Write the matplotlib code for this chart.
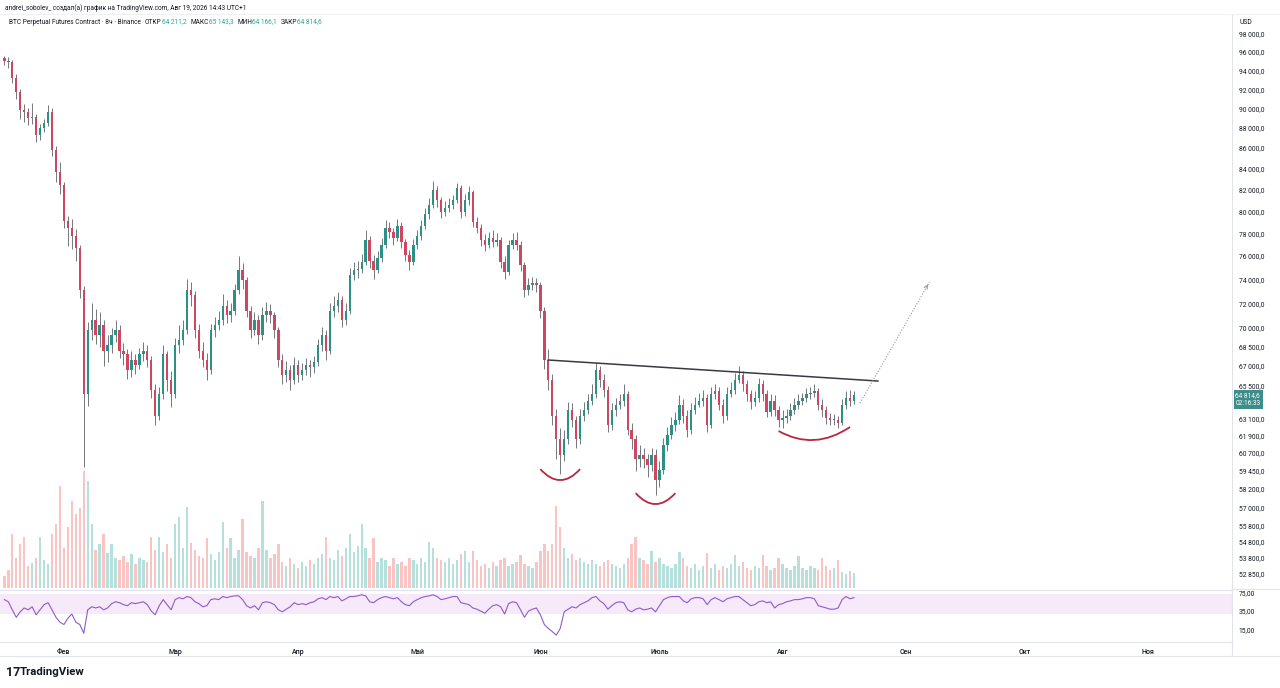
import numpy as np
import pandas as pd
import matplotlib
matplotlib.use("Agg")
import matplotlib.pyplot as plt
from matplotlib.path import Path
from matplotlib.patches import PathPatch
from matplotlib.lines import Line2D
from matplotlib.ticker import NullLocator, FixedLocator, FixedFormatter

plt.rcParams['font.family'] = ['Roboto', 'DejaVu Sans']

# ---------------- data (daily candles, prices in thousand USD) -------------
start_date = '2026-01-17'
first_open_k = 95.3
closes_k = [
    95.0, 94.9, 93.2, 91.7, 89.8, 89.6, 89.0, 89.1, 87.3, 88.0,
    88.5, 89.6, 85.8, 83.7, 82.4, 79.1, 78.5, 77.8, 76.7, 73.1,
    64.9, 69.8, 70.6, 69.4, 70.2, 68.2, 68.6, 69.4, 69.8, 68.2,
    67.9, 66.7, 67.5, 67.1, 67.9, 68.2, 67.5, 65.2, 63.3, 64.9,
    67.9, 65.9, 64.9, 68.6, 69.0, 69.8, 73.1, 72.7, 69.8, 68.2,
    67.5, 66.7, 69.8, 70.2, 70.6, 71.8, 71.0, 71.4, 73.1, 74.8,
    73.9, 71.4, 69.8, 70.6, 69.4, 71.0, 71.4, 71.0, 69.8, 67.5,
    66.3, 66.7, 65.9, 67.1, 66.3, 66.7, 67.1, 66.9, 67.3, 68.6,
    69.4, 68.2, 71.4, 71.8, 72.3, 70.6, 71.4, 74.4, 74.8, 74.9,
    75.5, 77.4, 75.6, 74.8, 75.8, 77.0, 78.5, 78.1, 77.6, 78.7,
    77.2, 76.1, 75.5, 77.0, 77.8, 78.7, 79.7, 80.6, 82.0, 81.0,
    79.9, 80.3, 80.6, 81.0, 82.2, 79.9, 81.0, 81.8, 79.0, 78.5,
    77.4, 77.0, 77.6, 77.2, 77.4, 75.5, 74.6, 77.0, 77.4, 77.0,
    75.2, 73.1, 73.5, 73.7, 73.5, 71.4, 67.5, 65.9, 63.3, 61.6,
    60.5, 61.6, 63.7, 63.0, 61.6, 63.3, 63.7, 64.4, 64.9, 66.7,
    65.9, 65.2, 62.6, 63.7, 64.1, 64.4, 64.9, 62.3, 61.6, 60.2,
    60.5, 60.2, 59.8, 60.5, 58.8, 59.5, 61.2, 61.9, 62.6, 63.0,
    64.1, 63.3, 62.3, 63.7, 64.1, 64.4, 64.6, 62.6, 64.9, 65.1,
    64.1, 63.3, 64.9, 65.2, 65.9, 66.3, 65.6, 64.9, 64.3, 64.6,
    65.6, 64.9, 63.6, 64.4, 63.7, 63.0, 63.1, 63.3, 63.7, 64.1,
    64.4, 64.6, 64.9, 65.0, 65.1, 64.1, 63.7, 63.1, 63.0, 63.0,
    62.8, 64.1, 64.6, 64.4, 64.8146]
highs_k = [
    95.6, 95.4, 95.1, 93.6, 92.0, 90.5, 90.0, 90.6, 89.4, 88.4,
    88.9, 90.3, 90.0, 86.2, 84.6, 82.7, 79.6, 79.3, 78.4, 77.0,
    73.4, 70.5, 72.0, 71.5, 71.3, 70.6, 69.4, 70.0, 70.6, 70.2,
    68.8, 68.3, 68.2, 67.9, 68.4, 68.9, 68.6, 67.8, 65.6, 65.4,
    68.6, 68.2, 66.6, 69.2, 70.2, 70.6, 74.0, 73.8, 73.0, 70.3,
    68.9, 68.0, 70.3, 70.9, 71.4, 72.8, 72.3, 72.0, 73.6, 76.0,
    75.4, 74.2, 71.8, 71.3, 71.0, 71.7, 72.1, 71.9, 71.3, 70.1,
    67.9, 67.4, 67.1, 67.7, 67.5, 67.2, 67.6, 67.5, 67.8, 69.1,
    70.1, 69.8, 72.0, 72.6, 72.9, 72.6, 72.0, 75.0, 75.5, 75.6,
    76.2, 78.3, 77.8, 76.1, 76.4, 77.6, 79.2, 79.0, 78.5, 79.3,
    79.0, 77.5, 76.5, 77.5, 78.3, 79.2, 80.3, 81.2, 82.8, 82.3,
    81.3, 80.9, 81.2, 81.5, 82.6, 82.4, 81.6, 82.3, 82.0, 79.5,
    78.8, 77.9, 78.1, 78.3, 78.0, 77.7, 76.0, 77.4, 78.0, 78.1,
    77.3, 75.5, 74.1, 74.2, 74.1, 73.8, 71.7, 68.3, 66.4, 63.8,
    62.4, 62.3, 64.3, 64.2, 63.3, 63.8, 64.3, 64.9, 65.6, 67.3,
    67.0, 66.4, 65.5, 64.2, 64.6, 64.9, 65.6, 65.1, 62.8, 61.9,
    61.2, 61.0, 60.6, 61.0, 60.9, 60.1, 61.7, 62.5, 63.2, 63.6,
    64.8, 64.5, 63.7, 64.2, 64.7, 65.0, 65.2, 64.9, 65.4, 65.6,
    65.4, 64.5, 65.4, 65.8, 66.5, 67.0, 66.6, 65.9, 65.2, 65.1,
    66.1, 65.9, 65.2, 64.9, 64.8, 64.0, 63.7, 63.8, 64.2, 64.6,
    64.9, 65.0, 65.3, 65.4, 65.6, 65.3, 64.5, 64.0, 63.5, 63.4,
    63.3, 64.5, 65.1, 65.2, 65.1433]
lows_k = [
    94.6, 94.3, 92.6, 91.0, 88.9, 88.6, 88.3, 88.4, 86.6, 86.8,
    87.6, 88.2, 85.2, 82.7, 81.6, 78.5, 76.9, 76.6, 75.6, 72.4,
    59.7, 64.0, 69.0, 68.7, 68.5, 67.0, 67.3, 68.0, 68.9, 67.6,
    67.1, 66.0, 66.2, 66.4, 66.8, 67.4, 66.9, 64.6, 62.6, 63.0,
    64.5, 65.1, 63.9, 64.6, 68.0, 68.6, 69.5, 71.8, 69.2, 67.6,
    66.9, 65.9, 66.4, 69.3, 69.8, 70.2, 70.4, 70.5, 71.0, 72.8,
    73.2, 70.9, 69.2, 69.4, 68.7, 69.0, 70.5, 70.4, 69.2, 66.9,
    65.6, 65.8, 65.2, 65.6, 65.8, 65.9, 66.3, 66.2, 66.5, 67.0,
    68.2, 67.5, 67.9, 70.9, 71.3, 70.1, 70.2, 71.1, 73.9, 74.1,
    74.5, 75.2, 75.0, 74.0, 74.5, 75.5, 76.7, 77.6, 77.0, 77.3,
    76.7, 75.6, 74.8, 75.2, 76.6, 77.4, 78.4, 79.3, 80.3, 80.4,
    79.4, 79.6, 79.9, 80.2, 80.8, 79.4, 79.6, 80.6, 78.6, 78.0,
    76.9, 76.4, 76.7, 76.8, 76.9, 75.0, 74.0, 74.4, 76.6, 76.5,
    74.7, 72.5, 72.7, 73.1, 72.9, 70.8, 66.8, 65.2, 62.6, 60.2,
    59.2, 60.1, 61.3, 62.5, 61.0, 61.3, 62.9, 63.4, 64.1, 64.6,
    65.4, 64.7, 62.1, 62.3, 63.3, 63.8, 64.0, 61.9, 60.9, 59.4,
    59.7, 59.6, 59.0, 59.4, 57.8, 58.3, 59.2, 60.8, 61.6, 62.2,
    62.7, 62.8, 61.8, 62.0, 63.4, 63.9, 64.0, 62.1, 62.4, 64.5,
    63.7, 62.8, 63.0, 64.7, 64.9, 65.7, 65.1, 64.4, 63.8, 64.0,
    64.3, 64.4, 63.2, 63.3, 63.3, 62.5, 62.4, 62.8, 63.0, 63.4,
    63.8, 64.1, 64.3, 64.5, 64.7, 63.7, 63.2, 62.7, 62.6, 62.6,
    62.4, 62.6, 63.8, 64.0, 64.1661]
volume_k = [
    12, 18, 54, 30, 44, 51, 22, 25, 30, 51,
    28, 24, 54, 64, 102, 40, 61, 87, 74, 80,
    117, 107, 64, 38, 44, 54, 35, 44, 30, 28,
    32, 26, 34, 24, 30, 28, 26, 51, 38, 51,
    36, 44, 30, 64, 71, 40, 81, 45, 38, 32,
    30, 50, 34, 28, 36, 66, 40, 50, 30, 38,
    69, 36, 32, 30, 40, 87, 38, 30, 34, 44,
    26, 22, 30, 24, 20, 26, 22, 28, 24, 30,
    34, 51, 30, 28, 38, 32, 40, 54, 36, 42,
    64, 40, 30, 50, 26, 30, 28, 22, 30, 24,
    26, 22, 30, 28, 24, 30, 26, 46, 40, 30,
    28, 26, 30, 24, 28, 34, 37, 26, 37, 28,
    22, 24, 20, 26, 22, 28, 30, 22, 24, 26,
    33, 24, 22, 20, 26, 37, 44, 37, 44, 82,
    61, 40, 30, 34, 28, 30, 26, 24, 28, 24,
    22, 26, 28, 24, 22, 20, 24, 30, 44, 51,
    30, 28, 24, 37, 26, 30, 24, 22, 20, 24,
    36, 30, 22, 20, 24, 18, 22, 35, 20, 24,
    18, 22, 20, 24, 33, 22, 26, 20, 18, 22,
    20, 33, 22, 18, 20, 30, 24, 20, 18, 22,
    32, 20, 18, 22, 20, 18, 30, 22, 18, 20,
    28, 16, 14, 17, 15]
# RSI values (one per day)
rsi_vals = [
    56, 51, 36, 26, 33, 39, 36, 41, 29, 36,
    45, 49, 36, 26, 21, 19, 25, 30, 21, 19,
    13, 36, 41, 39, 41, 36, 39, 47, 51, 49,
    45, 43, 49, 47, 49, 51, 45, 34, 29, 43,
    56, 45, 36, 56, 61, 58, 64, 61, 51, 47,
    41, 43, 56, 58, 56, 64, 61, 64, 66, 66,
    56, 43, 39, 43, 36, 49, 51, 49, 45, 36,
    33, 37, 41, 49, 45, 47, 45, 49, 51, 58,
    61, 56, 64, 61, 64, 53, 58, 64, 64, 66,
    69, 66, 51, 49, 56, 61, 64, 61, 58, 61,
    51, 45, 43, 51, 56, 61, 64, 66, 69, 64,
    56, 58, 61, 64, 64, 49, 47, 45, 39, 37,
    34, 31, 37, 43, 45, 41, 30, 47, 51, 49,
    36, 26, 34, 37, 39, 29, 19, 16, 14, 12,
    16, 33, 37, 41, 39, 45, 49, 53, 61, 64,
    53, 47, 37, 43, 49, 51, 49, 36, 33, 37,
    39, 36, 37, 39, 33, 43, 56, 61, 64, 64,
    64, 53, 49, 58, 61, 61, 58, 45, 56, 61,
    56, 51, 58, 61, 64, 64, 56, 49, 43, 45,
    51, 53, 49, 51, 39, 45, 47, 51, 53, 56,
    56, 58, 61, 61, 58, 43, 41, 39, 37, 37,
    39, 56, 64, 58, 61]

price_ticks = [98000, 96000, 94000, 92000, 90000, 88000, 86000, 84000, 82000, 80000,
               78000, 76000, 74000, 72000, 70000, 68500, 67000, 65500, 63100, 61900,
               60700, 59450, 58200, 57000, 55800, 54800, 53800, 52850]
rsi_ticks = [75, 35, 15]
month_labels = ['Фев', 'Мар', 'Апр', 'Май', 'Июн', 'Июль', 'Авг', 'Сен', 'Окт', 'Ноя']

# drawings on the chart (date, price)
neck_dates = ['2026-06-03', '2026-08-25']
neck_prices = [67465, 65860]
proj_dates = ['2026-08-20 12:00', '2026-09-07']
proj_prices = [64221, 73768]
arc_dates = [('2026-06-01', '2026-06-06', '2026-06-11'),
             ('2026-06-25', '2026-06-30', '2026-07-05'),
             ('2026-07-31', '2026-08-09', '2026-08-18')]
arc_prices = [(59539, 58057, 59539),
              (57925, 56484, 57925),
              (62197, 60782, 62482)]

header1 = 'andrei_sobolev_ создал(а) график на TradingView.com, Авг 19, 2026 14:43 UTC+1'
header2 = [('BTC Perpetual Futures Contract · 8ч · Binance', 'k', 4),
           ('ОТКР', 'k', 0), ('64 211,2', 't', 4),
           ('МАКС', 'k', 0), ('65 143,3', 't', 4),
           ('МИН', 'k', 0), ('64 166,1', 't', 4),
           ('ЗАКР', 'k', 0), ('64 814,6', 't', 0)]
last_label = '64 814,6\n02:16:33'

# ---------------- derived ----------------
ref = pd.Timestamp('2026-02-01')
def dnum(s):
    return (pd.Timestamp(s) - ref) / pd.Timedelta(days=1)

dates = pd.date_range(start_date, periods=len(closes_k), freq='D')
xd = np.array([(d - ref) / pd.Timedelta(days=1) for d in dates])
close = np.array(closes_k) * 1000
high = np.array(highs_k) * 1000
low = np.array(lows_k) * 1000
open_ = np.r_[first_open_k * 1000, close[:-1]]
vol = np.array(volume_k, dtype=float)
rsi = np.array(rsi_vals, dtype=float)
up = close >= open_

W, H = 1280, 688
fig = plt.figure(figsize=(W / 100, H / 100), dpi=100)
fig.patch.set_facecolor('white')

TXT = '#131722'
TEAL = '#26a69a'
UPC = '#2b9187'
DNC = '#cf4660'
GRID = '#e0e3eb'

def fy(y):
    return 1 - y / H

right = 1232 / W
main_rect = [0, fy(588), right, (588 - 14) / H]
rsi_rect = [0, fy(642), right, (642 - 590) / H]

vax = fig.add_axes(main_rect)
ax = fig.add_axes(main_rect, sharex=vax)
rax = fig.add_axes(rsi_rect, sharex=vax)
ax.patch.set_visible(False)

xmin, xmax = -16.1, 294.2
vax.set_xlim(xmin, xmax)

# volume
vcol = np.where(up, '#26a69a', '#ef5350')
vax.bar(xd, vol, width=0.6, color=vcol, alpha=0.34, linewidth=0)
vax.set_ylim(0, vol.max() * 4.9)
vax.axis('off')

# candles
ax.set_yscale('log')
ax.set_ylim(51961, 100271)
ax.vlines(xd, low, high, colors='#5d6066', linewidth=0.6, zorder=2)
body_lo = np.minimum(open_, close)
body_h = np.maximum(np.abs(close - open_), 60)
ax.bar(xd, body_h, bottom=body_lo, width=0.6, color=np.where(up, UPC, DNC),
       linewidth=0, zorder=3)

# neckline
ax.plot([dnum(t) for t in neck_dates], neck_prices, color='#363a45', lw=1.1, zorder=4)
# projection
px = [dnum(t) for t in proj_dates]
ax.plot(px, proj_prices, color='#9598a1', lw=0.8, ls=(0, (1, 1.5)), zorder=4)
ax.annotate('', xy=(px[1], proj_prices[1]),
            xytext=(px[1] - 0.8, proj_prices[1] * 0.994),
            arrowprops=dict(arrowstyle='->', color='#9598a1', lw=0.8,
                            mutation_scale=6), zorder=4)
# arcs
for dts, prs in zip(arc_dates, arc_prices):
    verts = [(dnum(dts[0]), prs[0]), (dnum(dts[1]), prs[1]), (dnum(dts[2]), prs[2])]
    path = Path(verts, [Path.MOVETO, Path.CURVE3, Path.CURVE3])
    ax.add_patch(PathPatch(path, fill=False, edgecolor='#b5283f', lw=1.3, zorder=4))

ax.yaxis.tick_right()
ax.yaxis.set_major_locator(FixedLocator(price_ticks))
ax.yaxis.set_major_formatter(FixedFormatter(
    [f"{v:,}".replace(',', ' ') + ',0' for v in price_ticks]))
ax.yaxis.set_minor_locator(NullLocator())
ax.tick_params(axis='y', length=0, pad=5, labelsize=4.9, labelcolor=TXT)
ax.tick_params(axis='x', length=0, labelbottom=False)
for sp in ['top', 'left', 'bottom']:
    ax.spines[sp].set_visible(False)
ax.spines['right'].set_color(GRID)
ax.spines['right'].set_linewidth(0.8)

# last price label (box just below the 65 500 tick, as in the reference)
ax.annotate(last_label, xy=(1.0, close[-1]), xycoords=ax.get_yaxis_transform(),
            xytext=(2.5, -3.2), textcoords='offset points',
            ha='left', va='center', fontsize=4.7, color='white', linespacing=1.2,
            bbox=dict(boxstyle='square,pad=0.3', facecolor='#3d8d8a', edgecolor='none'),
            zorder=6, annotation_clip=False)

# RSI
rax.set_yscale('log')
rax.set_ylim(8.9, 85)
rax.axhspan(30, 70, color='#b04fd8', alpha=0.12, linewidth=0)
rax.plot(xd, rsi, color='#8e5cc8', lw=0.8)
rax.yaxis.tick_right()
rax.yaxis.set_major_locator(FixedLocator(rsi_ticks))
rax.yaxis.set_major_formatter(FixedFormatter([f"{v},00" for v in rsi_ticks]))
rax.yaxis.set_minor_locator(NullLocator())
rax.tick_params(axis='y', length=0, pad=5, labelsize=4.9, labelcolor=TXT)
month_pos = [dnum(t) for t in pd.date_range('2026-02-01', '2026-11-01', freq='MS')]
rax.xaxis.set_major_locator(FixedLocator(month_pos))
rax.xaxis.set_major_formatter(FixedFormatter(month_labels))
rax.xaxis.set_minor_locator(NullLocator())
rax.tick_params(axis='x', length=0, pad=4, labelsize=5.0, labelcolor=TXT)
for lab in rax.get_xticklabels():
    lab.set_fontweight('medium')
rax.spines['left'].set_visible(False)
for sp in ['top', 'bottom', 'right']:
    rax.spines[sp].set_color(GRID)
    rax.spines[sp].set_linewidth(0.8)
rax.patch.set_visible(False)

# separators
fig.add_artist(Line2D([0, 1], [fy(656), fy(656)], color=GRID, lw=0.8))
fig.add_artist(Line2D([right, 1], [fy(588.5), fy(588.5)], color=GRID, lw=0.8))
fig.add_artist(Line2D([0, 1], [fy(13.5), fy(13.5)], color='#eef0f3', lw=0.8))
fig.add_artist(Line2D([right, right], [fy(656), fy(642)], color=GRID, lw=0.8))

# header
fig.text(5 / W, fy(8), header1, fontsize=4.7, color=TXT, ha='left', va='center')
renderer = fig.canvas.get_renderer()
xcur = 9
for txt, c, gap in header2:
    t = fig.text(xcur / W, fy(22), txt, fontsize=4.7,
                 color=TXT if c == 'k' else TEAL, ha='left', va='center')
    bb = t.get_window_extent(renderer)
    xcur = bb.x1 + gap
fig.text(1240 / W, fy(22), 'USD', fontsize=4.9, color=TXT, ha='left', va='center')

# TradingView logo
fig.text(6 / W, fy(672), '17', fontsize=9, fontweight='bold', color=TXT,
         ha='left', va='center')
fig.text(20 / W, fy(672), 'TradingView', fontsize=8.2, fontweight='bold', color=TXT,
         ha='left', va='center')

fig.savefig('out.png', dpi=100, facecolor='white')
